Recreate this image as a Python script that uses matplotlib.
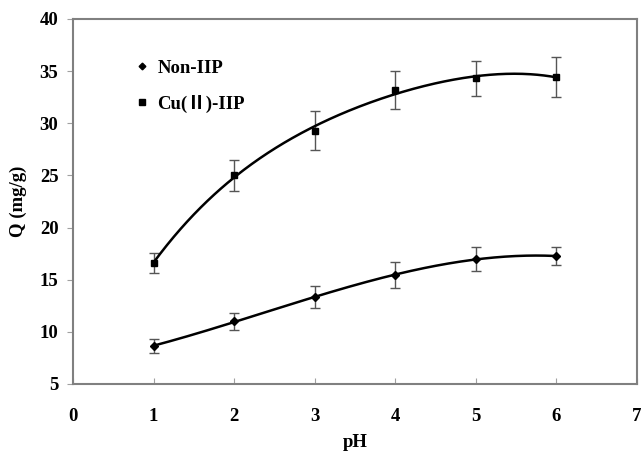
import numpy as np
import matplotlib
matplotlib.use("Agg")
import matplotlib.pyplot as plt

ph = [1, 2, 3, 4, 5, 6]
non_iip = [8.65, 11.0, 13.3, 15.45, 17.0, 17.25]
non_iip_err = [0.7, 0.85, 1.05, 1.25, 1.15, 0.85]
cu_iip = [16.6, 25.0, 29.3, 33.2, 34.3, 34.45]
cu_iip_err = [1.0, 1.5, 1.85, 1.8, 1.7, 1.9]
series_names = ["Non-IIP", "Cu(Ⅱ)-IIP"]
x_ticks = [0, 1, 2, 3, 4, 5, 6, 7]
y_ticks = [5, 10, 15, 20, 25, 30, 35, 40]

plt.rcParams['font.family'] = ['Liberation Serif', 'Noto Sans CJK SC', 'DejaVu Sans']
plt.rcParams['font.weight'] = 'bold'
FS = 13.5

fig = plt.figure(figsize=(6.41, 4.54), dpi=100)
ax = fig.add_axes([0.1139, 0.1542, 0.8791, 0.8040])

xs = np.linspace(min(ph), max(ph), 300)
handles = []
# polynomial trendlines
for vals, errs, mk, ms, deg, name in [(non_iip, non_iip_err, 'D', 4.0, 3, series_names[0]),
                                      (cu_iip, cu_iip_err, 's', 5.0, 4, series_names[1])]:
    coef = np.polyfit(ph, vals, deg)
    ax.plot(xs, np.polyval(coef, xs), color='black', lw=1.8, zorder=3)
    ax.errorbar(ph, vals, yerr=errs, fmt='none', ecolor='#555555', elinewidth=1.0,
                capsize=3.5, capthick=1.0, zorder=2)
    ax.plot(ph, vals, linestyle='none', marker=mk, ms=ms, color='black', zorder=4)
    h, = ax.plot([], [], linestyle='none', marker=mk, ms=ms * 0.85, color='black', label=name)
    handles.append(h)

ax.set_xlim(0, 7)
ax.set_ylim(5, 40)
ax.set_xticks(x_ticks)
ax.set_yticks(y_ticks)
for s in ax.spines.values():
    s.set_color('#808080')
    s.set_linewidth(1.5)
ax.tick_params(axis='x', direction='in', length=4, color='#a0a0a0', pad=17, labelsize=FS)
ax.tick_params(axis='y', direction='out', length=4.5, color='#a0a0a0', pad=6, labelsize=FS)
for lab in ax.get_xticklabels() + ax.get_yticklabels():
    lab.set_fontweight('bold')

ax.set_xlabel('pH', fontsize=FS, fontweight='bold', labelpad=7)
ax.set_ylabel('Q (mg/g)', fontsize=FS, fontweight='bold', labelpad=9)

leg = ax.legend(handles=handles, loc='upper left', bbox_to_anchor=(0.083, 0.935), frameon=False,
                handlelength=0.6, handletextpad=0.5, labelspacing=0.95,
                prop={'weight': 'bold', 'size': FS})

fig.savefig('out.png', dpi=100)
